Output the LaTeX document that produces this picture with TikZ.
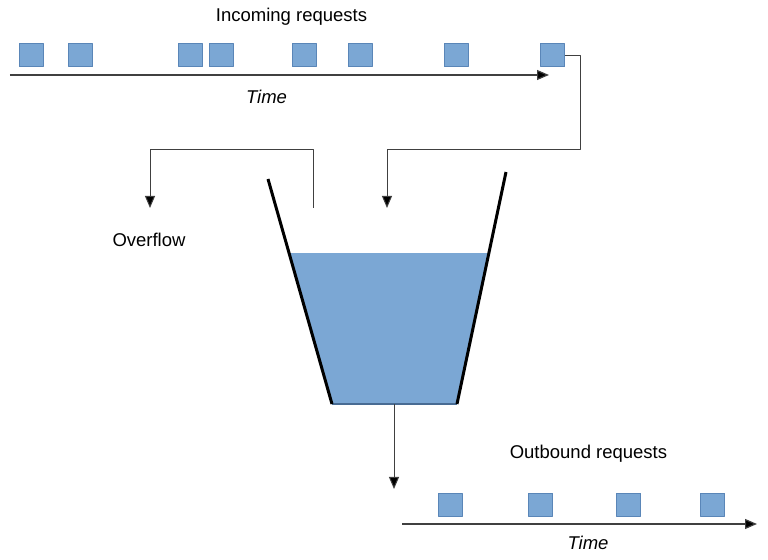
\documentclass[tikz,border=0pt]{standalone}
\usepackage{fontspec}
\setmainfont{Liberation Sans}
\usetikzlibrary{arrows.meta, positioning, calc}
\definecolor{reqblue}{HTML}{7BA7D4}
\definecolor{reqedge}{HTML}{5A86B8}

\begin{document}
\begin{tikzpicture}[x=0.5pt, y=-0.5pt, line join=round,
    request/.style={draw=reqedge, fill=reqblue, line width=0.5pt,
                    minimum width=12pt, minimum height=11.5pt, inner sep=0pt},
    flow/.style={draw=black!75, line width=0.5pt, -{Triangle[length=6pt, width=5pt, fill=black]}},
    timeline/.style={draw=black!75, line width=0.6pt, -{Triangle[length=6pt, width=5pt, fill=black]}},
    txt/.style={font=\fontsize{9.25}{11}\selectfont, inner sep=0pt}]
        \useasboundingbox (0,0) rectangle (768,560);
        % incoming side
        \foreach \x [count=\i] in {31, 80.5, 190.5, 221, 304, 360, 456, 552.5}
            \node[request] (in\i) at (\x, 55.5) {};
        \coordinate (inStart) at (10, 75);
        \coordinate (inEnd)   at (549, 75);
        \draw[timeline] (inStart) -- (inEnd);
        \node[txt] (inTitle) at (291.5, 17) {Incoming requests};
        \node[txt, font=\fontsize{9.25}{11}\selectfont\itshape] (inTime) at (266.5, 97) {Time};
        % bucket
        \coordinate (lt) at (268, 179);
        \coordinate (lb) at (332, 404);
        \coordinate (rt) at (506, 172);
        \coordinate (rb) at (457, 404);
        \coordinate (wl) at ($(lt)!0.33!(lb)$);
        \coordinate (wr) at ($(rt)!0.35!(rb)$);
        \fill[reqblue] (wl) -- (wr) -- (rb) -- (lb) -- cycle;
        \draw[reqedge!80!black, line width=1pt] (lb) -- (rb);
        \draw[line width=1.5pt] (lt) -- (lb);
        \draw[line width=1.5pt] (rt) -- (rb);
        % inflow and overflow
        \coordinate (inTurn) at (580, 150);
        \coordinate (inlet)  at (387, 208);
        \draw[flow] (in8.east) -| (inTurn) -| (inlet);
        \coordinate (spill)    at (313, 208);
        \coordinate (overTurn) at (150, 150);
        \coordinate (overDrop) at (150, 208);
        \draw[flow] (spill) |- (overTurn) -- (overDrop);
        \node[txt] (overflow) at (149, 240) {Overflow};
        % outbound side
        \coordinate (outlet) at (394, 404);
        \coordinate (outEnd) at (394, 489);
        \draw[flow] (outlet) -- (outEnd);
        \node[txt] (outTitle) at (588.5, 454) {Outbound requests};
        \foreach \x [count=\i] in {450, 540.5, 628.5, 712.5}
            \node[request] (out\i) at (\x, 505) {};
        \coordinate (outStart) at (402, 524);
        \coordinate (outStop)  at (757, 524);
        \draw[timeline] (outStart) -- (outStop);
        \node[txt, font=\fontsize{9.25}{11}\selectfont\itshape] (outTime) at (588, 543) {Time};
\end{tikzpicture}
\end{document}
